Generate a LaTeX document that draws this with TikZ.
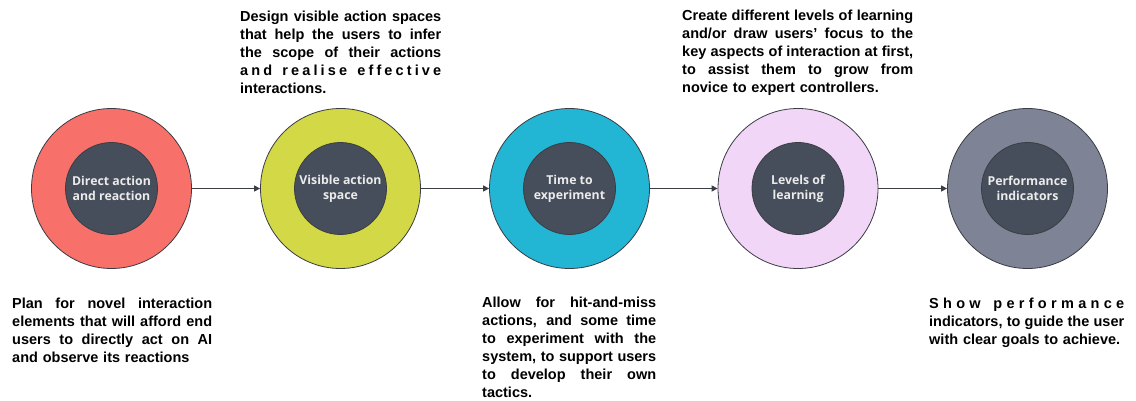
\documentclass[tikz,border=0pt]{standalone}
\usepackage{fontspec}
\setmainfont{Liberation Sans}
\newfontfamily\circfont{Open Sans}
\usetikzlibrary{arrows.meta}

\definecolor{ringred}{HTML}{F7716A}
\definecolor{ringlime}{HTML}{D3D846}
\definecolor{ringcyan}{HTML}{22B5D4}
\definecolor{ringpink}{HTML}{F2D6F8}
\definecolor{ringgrey}{HTML}{7E8395}
\definecolor{coreslate}{HTML}{474E5B}
\definecolor{edgegrey}{HTML}{3A3D44}

% one justified line, and one line with its letters spread out
\newcommand{\fl}[1]{\makebox[\linewidth][s]{\spaceskip=0pt\xspaceskip=0pt #1}\\}
\makeatletter
\newcommand{\spreadword}[1]{\@tfor\spr@c:=#1\do{\spr@c\hfil}\unskip}
\makeatother

\begin{document}
\begin{tikzpicture}[x=1pt,y=-1pt,
	ring/.style={circle,draw=edgegrey,line width=0.8pt,minimum size=160pt,inner sep=0pt},
	core/.style={circle,draw=edgegrey,line width=0.8pt,fill=coreslate,minimum size=92pt,inner sep=0pt,
		text=white!92!black,align=center,font=\circfont\bfseries\fontsize{12.3}{15}\selectfont},
	note/.style={anchor=north west,inner sep=0pt,align=left,font=\bfseries\fontsize{14.5}{18}\selectfont},
	flow/.style={draw=edgegrey,line width=1.1pt,-{Triangle[length=6pt,width=6pt]}}]

	\useasboundingbox (0,0) rectangle (1136,401);

	\node[ring,fill=ringred]  (r1) at (111.5,188.5) {};
	\node[ring,fill=ringlime] (r2) at (340.5,188.5) {};
	\node[ring,fill=ringcyan] (r3) at (569.5,188.5) {};
	\node[ring,fill=ringpink] (r4) at (798,188.5) {};
	\node[ring,fill=ringgrey] (r5) at (1027.5,188.5) {};

	\node[core] (c1) at (r1) {Direct action\\and reaction};
	\node[core] (c2) at (r2) {Visible action\\space};
	\node[core] (c3) at (r3) {Time to\\experiment};
	\node[core] (c4) at (r4) {Levels of\\learning};
	\node[core] (c5) at (r5) {Performance\\indicators};

	\draw[flow] (r1) -- (r2);
	\draw[flow] (r2) -- (r3);
	\draw[flow] (r3) -- (r4);
	\draw[flow] (r4) -- (r5);

	\node[note,text width=201pt] (t2) at (240,11) {\fl{Design visible action spaces}\fl{that help the users to infer}\fl{the scope of their actions}\fl{\spreadword{and}\hfil\ \hfil\spreadword{realise}\hfil\ \hfil\spreadword{effective}}interactions.};
	\node[note,text width=231pt] (t4) at (682,10) {\fl{Create different levels of learning}\fl{and/or draw users' focus to the}\fl{key aspects of interaction at first,}\fl{to assist them to grow from}novice to expert controllers.};

	\node[note,text width=200pt] (b1) at (12,298) {\fl{Plan for novel interaction}\fl{elements that will afford end}\fl{users to directly act on AI}and observe its reactions};
	\node[note,text width=174pt] (b3) at (482,297) {\fl{Allow for hit-and-miss}\fl{actions, and some time}\fl{to experiment with the}\fl{system, to support users}\fl{to develop their own}tactics.};
	\node[note,text width=195pt] (b5) at (929,298) {\fl{\spreadword{Show}\hfil\ \hfil\spreadword{performance}}\fl{indicators, to guide the user}with clear goals to achieve.};

\end{tikzpicture}
\end{document}
